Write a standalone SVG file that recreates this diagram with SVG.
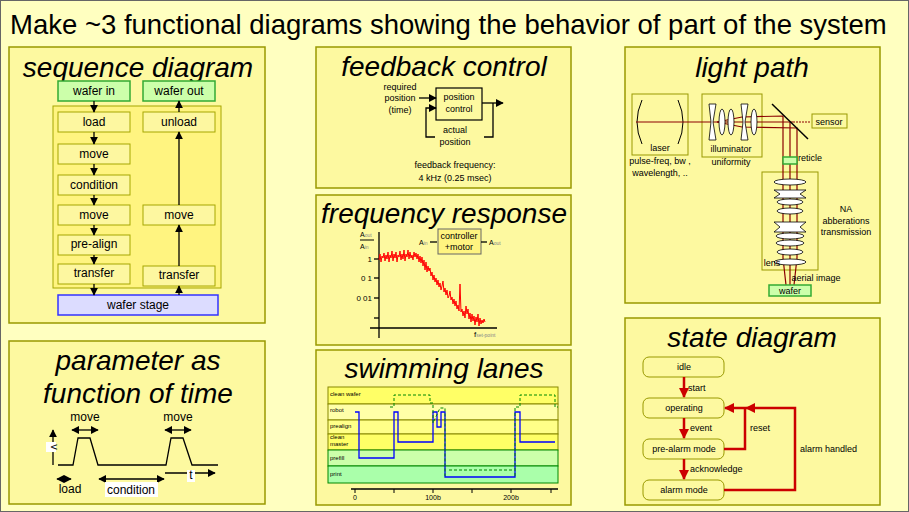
<svg xmlns="http://www.w3.org/2000/svg" width="909" height="512" viewBox="0 0 909 512">
<defs>
<marker id="ah" viewBox="0 0 10 10" refX="9" refY="5" markerWidth="6" markerHeight="6" orient="auto-start-reverse"><path d="M0,0L10,5L0,10z" fill="#000"/></marker>
<marker id="rh" viewBox="0 0 10 10" refX="9" refY="5" markerWidth="4" markerHeight="4" orient="auto"><path d="M0,0L10,5L0,10z" fill="#c00"/></marker>
</defs>
<style>
text{font-family:"Liberation Sans",Arial,sans-serif;fill:#000}
.pan{fill:#fdf9a0;stroke:#999900;stroke-width:1.5}
.ti{font-size:28px;font-style:italic;text-anchor:middle}
.bx{fill:#fdf7a0;stroke:#a6a600;stroke-width:1}
.g{fill:#ccffaa;stroke:#33aa33;stroke-width:1.5}
.s{font-size:12px;text-anchor:middle}
.xs{font-size:9px;text-anchor:middle}
.ln{stroke:#000;stroke-width:1.3;fill:none}
.st{fill:#fdf9a0;stroke:#999900;stroke-width:1}
.red{stroke:#c00;stroke-width:2.5;fill:none}
.beam{stroke:#8b0000;stroke-width:1.2;fill:none}
.lens{fill:#fff;stroke:#000;stroke-width:0.8}
</style>
<rect x="0" y="0" width="909" height="512" fill="#ffffc0" stroke="#666" stroke-width="2"/>
<text x="10" y="34" font-size="27.5">Make ~3 functional diagrams showing the behavior of part of the system</text>

<g id="panel-sequence">
<rect class="pan" x="9" y="47" width="256" height="276"/>
<text class="ti" x="138" y="77">sequence diagram</text>
<rect x="53" y="106" width="168" height="182" fill="#fff480" stroke="#a6a600"/>
<g id="n-waferin"><rect class="g" x="58" y="81" width="72" height="20"/><text class="s" x="94" y="95">wafer in</text></g>
<g id="n-waferout"><rect class="g" x="143" y="81" width="72" height="20"/><text class="s" x="179" y="95">wafer out</text></g>
<g id="n-load"><rect class="bx" x="58" y="112" width="72" height="20"/><text class="s" x="94" y="126">load</text></g>
<g id="n-move1"><rect class="bx" x="58" y="144" width="72" height="20"/><text class="s" x="94" y="158">move</text></g>
<g id="n-condition"><rect class="bx" x="58" y="175" width="72" height="20"/><text class="s" x="94" y="189">condition</text></g>
<g id="n-move2"><rect class="bx" x="58" y="205" width="72" height="20"/><text class="s" x="94" y="219">move</text></g>
<g id="n-prealign"><rect class="bx" x="58" y="235" width="72" height="20"/><text class="s" x="94" y="248">pre-align</text></g>
<g id="n-transfer1"><rect class="bx" x="58" y="264" width="72" height="20"/><text class="s" x="94" y="277">transfer</text></g>
<g id="n-unload"><rect class="bx" x="143" y="112" width="72" height="20"/><text class="s" x="179" y="126">unload</text></g>
<g id="n-move3"><rect class="bx" x="143" y="205" width="72" height="20"/><text class="s" x="179" y="219">move</text></g>
<g id="n-transfer2"><rect class="bx" x="143" y="266" width="72" height="20"/><text class="s" x="179" y="279">transfer</text></g>
<g id="n-stage"><rect x="58" y="295" width="160" height="20" fill="#dcdcff" stroke="#3333ff" stroke-width="1.5"/><text class="s" x="138" y="309">wafer stage</text></g>
<g id="seq-connectors" class="ln" marker-end="url(#ah)">
<line x1="94" y1="101" x2="94" y2="112"/><line x1="94" y1="132" x2="94" y2="144"/><line x1="94" y1="164" x2="94" y2="175"/><line x1="94" y1="195" x2="94" y2="205"/><line x1="94" y1="225" x2="94" y2="235"/><line x1="94" y1="255" x2="94" y2="264"/><line x1="94" y1="284" x2="94" y2="295"/>
<line x1="179" y1="295" x2="179" y2="286"/><line x1="179" y1="266" x2="179" y2="225"/><line x1="179" y1="205" x2="179" y2="132"/><line x1="179" y1="112" x2="179" y2="101"/>
</g>
</g>

<g id="panel-parameter">
<rect class="pan" x="9" y="341" width="256" height="163"/>
<text class="ti" x="138" y="370">parameter as</text>
<text class="ti" x="138" y="403">function of time</text>
<line class="ln" x1="53" y1="465" x2="53" y2="430" marker-end="url(#ah)"/>
<rect x="46" y="442" width="10" height="10" fill="#fff"/>
<text x="51" y="447" font-size="11" text-anchor="middle" transform="rotate(90 51 447)">v</text>
<polyline class="ln" points="58,465 73,465 78,438 90,438 98,465 166,465 171,438 183,438 192,465 218,465"/>
<line class="ln" x1="165" y1="473" x2="215" y2="473" marker-end="url(#ah)"/>
<rect x="187" y="470" width="8" height="12" fill="#fff"/><text x="191" y="479" font-size="12" text-anchor="middle">t</text>
<line class="ln" x1="72" y1="430" x2="98" y2="430" marker-start="url(#ah)" marker-end="url(#ah)"/>
<line class="ln" x1="165" y1="430" x2="191" y2="430" marker-start="url(#ah)" marker-end="url(#ah)"/>
<text class="s" x="85" y="421">move</text><text class="s" x="178" y="421">move</text>
<line class="ln" x1="57" y1="479" x2="71" y2="479" marker-start="url(#ah)" marker-end="url(#ah)"/>
<line class="ln" x1="99" y1="479" x2="164" y2="479" marker-start="url(#ah)" marker-end="url(#ah)"/>
<text class="s" x="70" y="493">load</text>
<rect x="105" y="482" width="53" height="15" fill="#fff"/><text class="s" x="131" y="494">condition</text>
</g>

<g id="panel-feedback">
<rect class="pan" x="316" y="47" width="255" height="141"/>
<text class="ti" x="444" y="76">feedback control</text>
<rect x="436" y="88" width="46" height="32" fill="none" stroke="#000" stroke-width="1.2"/>
<text class="xs" x="459" y="100">position</text><text class="xs" x="459" y="112">control</text>
<text class="xs" x="400" y="90">required</text><text class="xs" x="400" y="101">position</text><text class="xs" x="400" y="113">(time)</text>
<line class="ln" x1="419" y1="98" x2="436" y2="98" marker-end="url(#ah)"/>
<polyline class="ln" points="435,137 426,137 426,108 436,108" marker-end="url(#ah)"/>
<line class="ln" x1="482" y1="103" x2="503" y2="103" marker-end="url(#ah)"/>
<polyline class="ln" points="493,103 493,137 484,137"/>
<text class="xs" x="455" y="133">actual</text><text class="xs" x="455" y="145">position</text>
<text class="xs" x="455" y="168">feedback frequency:</text><text class="xs" x="455" y="181">4 kHz (0.25 msec)</text>
</g>

<g id="panel-frequency">
<rect class="pan" x="316" y="195" width="255" height="150"/>
<text class="ti" x="444" y="223">frequency response</text>
<line class="ln" x1="379" y1="232" x2="379" y2="338"/>
<line class="ln" x1="370" y1="328" x2="497" y2="328"/>
<g class="ln"><line x1="374" y1="259" x2="379" y2="259"/><line x1="374" y1="278" x2="379" y2="278"/><line x1="374" y1="298" x2="379" y2="298"/><line x1="374" y1="318" x2="379" y2="318"/></g>
<text x="372" y="262" font-size="8" text-anchor="end">1</text>
<text x="372" y="281" font-size="8" text-anchor="end">0 1</text>
<text x="372" y="301" font-size="8" text-anchor="end">0 01</text>
<text x="360" y="237" font-size="7">A<tspan font-size="5" fill="#888">out</tspan></text>
<line x1="360" y1="240" x2="374" y2="240" stroke="#000"/>
<text x="360" y="249" font-size="7">A<tspan font-size="5" fill="#888">in</tspan></text>
<rect x="438" y="229" width="43" height="25" fill="#fff480" stroke="#666"/>
<text class="xs" x="459" y="239" font-size="8">controller</text><text class="xs" x="459" y="250" font-size="8">+motor</text>
<text x="419" y="245" font-size="7">A<tspan font-size="5" fill="#888">in</tspan></text>
<line class="ln" x1="430" y1="242" x2="437" y2="242"/>
<line class="ln" x1="481" y1="242" x2="487" y2="242"/>
<text x="489" y="245" font-size="7">A<tspan font-size="5" fill="#888">out</tspan></text>
<text x="474" y="337" font-size="8">f<tspan font-size="5" fill="#888">set-point</tspan></text>
<polyline fill="none" stroke="#f00" stroke-width="1" points="379,260 380,254 381,262 382,256 383,258 384,253 385,261 386,255 387,259 388,252 389,262 390,255 391,258 392,251 393,261 394,254 395,258 396,252 397,262 398,255 399,257 400,251 401,260 402,254 403,259 404,250 405,261 406,254 407,257 408,250 409,259 410,252 411,258 412,255 413,260 414,252 415,257 416,253 417,259 418,254 419,262 420,256 421,263 422,257 423,266 424,260 425,270 426,262 427,272 428,266 429,271 430,268 431,276 432,272 433,280 434,275 435,282 436,278 437,285 438,280 439,287 440,283 441,290 442,286 443,281 444,292 445,288 446,295 447,290 448,298 449,296 450,291 451,300 452,297 453,304 454,299 455,306 456,301 457,309 458,305 459,311 460,284 461,312 462,309 463,316 464,311 465,318 466,306 467,314 468,309 469,319 470,313 471,322 472,314 473,321 474,316 475,325 476,317 477,322 478,314 479,326 480,318 481,324 482,320 483,323 484,319 485,322"/>
</g>

<g id="panel-swimming">
<rect class="pan" x="316" y="350" width="255" height="155"/>
<text class="ti" x="444" y="378">swimming lanes</text>
<rect x="328" y="387" width="230" height="17" fill="#ffff66" stroke="#888800"/>
<rect x="328" y="404" width="230" height="16" fill="#ffffa8" stroke="#888800"/>
<rect x="328" y="420" width="230" height="14" fill="#ffff88" stroke="#888800"/>
<rect x="328" y="434" width="230" height="16" fill="#ffff66" stroke="#888800"/>
<rect x="328" y="450" width="230" height="16" fill="#ccffaa" stroke="#008800"/>
<rect x="328" y="466" width="230" height="17" fill="#aaffaa" stroke="#008800"/>
<g font-size="6" fill="#555"><text x="330" y="396">clean wafer</text><text x="330" y="412">robot</text><text x="330" y="428">prealign</text><text x="330" y="439">clean</text><text x="330" y="446">master</text><text x="330" y="460">prefill</text><text x="330" y="476">print</text></g>
<polyline fill="none" stroke="#00f" stroke-width="1.3" points="355,412 359,412 359,458 394,458 394,412 398,412 398,442 433,442 433,412 437,412 437,427 441,427 441,412 445,412 445,477 515,477 515,412 520,412 520,442 555,442"/>
<polyline fill="none" stroke="#080" stroke-width="1" stroke-dasharray="3,2" points="390,407 394,407 394,395 430,395 430,403 433,403 433,423 440,408 445,408 445,476"/>
<line x1="449" y1="470" x2="513" y2="470" stroke="#080" stroke-dasharray="3,2"/>
<polyline fill="none" stroke="#080" stroke-width="1" stroke-dasharray="3,2" points="515,476 515,407 520,407 520,395 555,395 555,407 558,407"/>
<line class="ln" x1="351" y1="489" x2="558" y2="489" stroke-width="1"/>
<g stroke="#000"><line x1="355" y1="489" x2="355" y2="493"/><line x1="394" y1="489" x2="394" y2="493"/><line x1="433" y1="489" x2="433" y2="493"/><line x1="472" y1="489" x2="472" y2="493"/><line x1="511" y1="489" x2="511" y2="493"/><line x1="551" y1="489" x2="551" y2="493"/></g>
<g font-size="7" text-anchor="middle"><text x="355" y="500" fill="#aa5500">0</text><text x="433" y="500" fill="#aa5500">100b</text><text x="511" y="500" fill="#aa5500">200b</text></g>
</g>

<g id="panel-light">
<rect class="pan" x="625" y="47" width="255" height="256"/>
<text class="ti" x="752" y="77">light path</text>
<rect x="632" y="94" width="56" height="61" fill="none" stroke="#999900"/>
<rect x="702" y="94" width="60" height="63" fill="none" stroke="#999900"/>
<rect x="762" y="172" width="56" height="98" fill="none" stroke="#999900"/>
<path d="M642,100 Q632,122 642,144 M678,100 Q688,122 678,144" fill="none" stroke="#000"/>
<g class="beam"><line x1="636" y1="122" x2="793" y2="122"/><polyline points="717,122 742,117 783,116 783,258"/><polyline points="717,122 742,127 797,128 797,258"/><line x1="790" y1="122" x2="790" y2="292"/><polyline points="783,258 786,285 790,292"/><polyline points="797,258 794,285 790,292"/><line x1="793" y1="122" x2="811" y2="122" stroke-dasharray="2,1"/></g>
<g class="lens"><path d="M709,104 L716,104 L713,122 L716,140 L709,140 L711,122Z"/><ellipse cx="722" cy="122" rx="3" ry="13"/><ellipse cx="731" cy="122" rx="3" ry="13"/><path d="M741,104 L748,104 L745,122 L748,140 L741,140 L743,122Z"/><ellipse cx="754" cy="122" rx="3" ry="13"/></g>
<line x1="772" y1="104" x2="808" y2="139" stroke="#000" stroke-width="1.5"/>
<rect class="g" x="783" y="157" width="14" height="7"/>
<g class="lens"><ellipse cx="790" cy="182" rx="16" ry="3"/><path d="M774,190 L806,190 L800,194 L806,198 L774,198 L780,194Z"/><ellipse cx="790" cy="202" rx="13" ry="3"/><ellipse cx="790" cy="211" rx="13" ry="3"/><path d="M774,222 L806,222 L800,227 L806,232 L774,232 L780,227Z"/><ellipse cx="790" cy="236" rx="14" ry="3"/><ellipse cx="790" cy="243" rx="14" ry="3"/><ellipse cx="790" cy="252" rx="13" ry="3"/><ellipse cx="790" cy="262" rx="16" ry="3"/></g>
<rect x="812" y="114" width="35" height="14" fill="none" stroke="#999900"/>
<rect class="g" x="769" y="285" width="42" height="11"/>
<g font-size="9" text-anchor="middle"><text x="829" y="125">sensor</text><text x="660" y="151">laser</text><text x="660" y="164">pulse-freq, bw ,</text><text x="660" y="176">wavelength, ..</text><text x="731" y="152">illuminator</text><text x="731" y="165">uniformity</text><text x="810" y="161">reticle</text><text x="846" y="212">NA</text><text x="846" y="224">abberations</text><text x="846" y="235">transmission</text><text x="772" y="266">lens</text><text x="816" y="281">aerial image</text><text x="790" y="294">wafer</text></g>
</g>

<g id="panel-state">
<rect class="pan" x="625" y="318" width="255" height="187"/>
<text class="ti" x="752" y="347">state diagram</text>
<g id="s-idle"><rect class="st" x="643" y="357" width="81" height="20" rx="6"/><text class="xs" x="684" y="370">idle</text></g>
<g id="s-operating"><rect class="st" x="643" y="398" width="81" height="20" rx="6"/><text class="xs" x="684" y="411">operating</text></g>
<g id="s-prealarm"><rect class="st" x="643" y="439" width="81" height="20" rx="6"/><text class="xs" x="684" y="452">pre-alarm mode</text></g>
<g id="s-alarm"><rect class="st" x="643" y="480" width="81" height="20" rx="6"/><text class="xs" x="684" y="493">alarm mode</text></g>
<g id="state-connectors" class="red">
<line x1="684" y1="377" x2="684" y2="397" marker-end="url(#rh)"/>
<line x1="684" y1="418" x2="684" y2="438" marker-end="url(#rh)"/>
<line x1="684" y1="459" x2="684" y2="479" marker-end="url(#rh)"/>
<polyline points="724,449 745,449 745,408 725,408" marker-end="url(#rh)"/>
<polyline points="724,490 795,490 795,408 746,408" marker-end="url(#rh)"/>
</g>
<g font-size="9"><text x="688" y="391">start</text><text x="690" y="431">event</text><text x="690" y="472">acknowledge</text><text x="750" y="431">reset</text><text x="800" y="452">alarm handled</text></g>
</g>
</svg>
